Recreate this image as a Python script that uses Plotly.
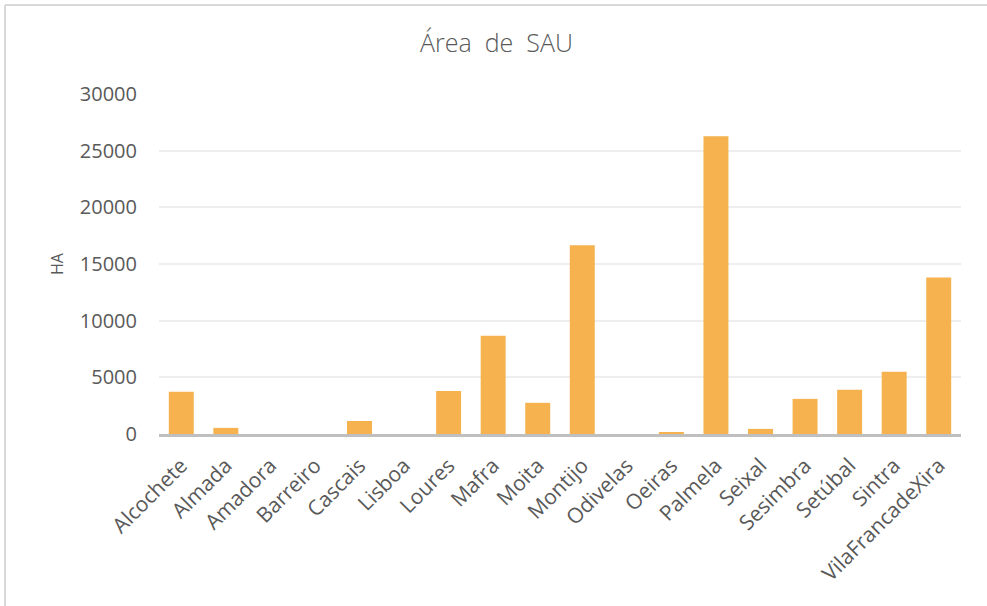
import plotly.graph_objects as go

categories = ["Alcochete", "Almada", "Amadora", "Barreiro", "Cascais", "Lisboa",
              "Loures", "Mafra", "Moita", "Montijo", "Odivelas", "Oeiras",
              "Palmela", "Seixal", "Sesimbra", "Setúbal", "Sintra", "VilaFrancadeXira"]
values = [3720, 540, 0, 0, 1150, 0, 3800, 8680, 2750, 16650, 0, 170,
          26280, 450, 3100, 3900, 5500, 13800]
y_ticks = [0, 5000, 10000, 15000, 20000, 25000, 30000]

fig = go.Figure()
fig.add_trace(go.Bar(x=categories, y=values, marker=dict(color="rgb(245,178,78)", line=dict(width=0))))

font_fam = "Open Sans, Noto Sans, sans-serif"
fig.update_layout(
    width=987, height=606,
    margin=dict(l=159, r=26, t=94, b=172),
    paper_bgcolor="white", plot_bgcolor="white",
    bargap=0.44,
    showlegend=False,
    title=dict(text="Área  de  SAU", x=0.503, xanchor="center", y=0.928, yanchor="middle",
               font=dict(family=font_fam, size=25, color="#595959", weight=300)),
    font=dict(family=font_fam, color="#595959"),
    xaxis=dict(tickangle=-45, tickfont=dict(size=21, color="#595959"), ticklabelstandoff=8,
               showline=True, linecolor="#BFBFBF", linewidth=3, ticks="", showgrid=False),
    yaxis=dict(range=[0, 30000], tickvals=y_ticks, ticktext=[str(v) for v in y_ticks],
               tickfont=dict(size=20, color="#595959"), showgrid=True, gridcolor="#EEEEEE",
               gridwidth=2, zeroline=False, ticks="", ticklabelstandoff=21,
               title=dict(text="HA", font=dict(size=16, color="#595959"), standoff=12)),
    shapes=[
        dict(type="line", xref="paper", yref="paper", x0=(5 - 159) / 802, x1=(987 - 159) / 802,
             y0=1 + (94 - 5) / 340, y1=1 + (94 - 5) / 340, line=dict(color="#D9D9D9", width=2)),
        dict(type="line", xref="paper", yref="paper", x0=(5 - 159) / 802, x1=(5 - 159) / 802,
             y0=1 + (94 - 5) / 340, y1=-(606 - 434) / 340, line=dict(color="#D9D9D9", width=2)),
    ],
)
fig.write_html("out.html", config={"displayModeBar": False},
               post_script="document.body.style.margin='0px';")
